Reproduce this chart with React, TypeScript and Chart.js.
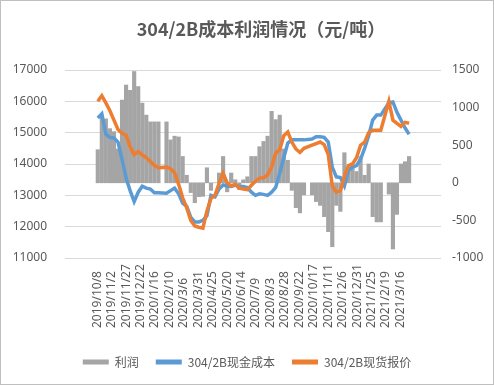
import { useEffect, useRef } from "react";
import { Chart, registerables } from "chart.js";

Chart.register(...registerables);

// Weekly samples (Wednesday of each trading week, starting 2019/10/9); null = holiday week
const startDate = "2019/10/8";
const titleText = "304/2B成本利润情况（元/吨）";
const tickLabels = [
  "2019/10/8", "2019/11/2", "2019/11/27", "2019/12/22", "2020/1/16", "2020/2/10",
  "2020/3/6", "2020/3/31", "2020/4/25", "2020/5/20", "2020/6/14", "2020/7/9",
  "2020/8/3", "2020/8/28", "2020/9/22", "2020/10/17", "2020/11/11", "2020/12/6",
  "2020/12/31", "2021/1/25", "2021/2/19", "2021/3/16",
];

// 利润 (right axis)
const profit = [
  440, 900, 850, 720, 680, 450, 1100, 1300, 1230, 1480,
  1280, 1060, 900, 810, 810, 810, null, 810, 570, 620,
  610, 350, 100, -130, -265, -185, -180, 200, -100, 0,
  130, 350, -120, 130, 40, -90, 40, 80, 350, 350,
  480, 550, 620, 950, 840, 900, 450, 300, -100, -330,
  -400, -160, null, -160, -250, -300, -450, -650, -850, -300,
  -380, 400, 200, 200, 150, 350, 100, 250, -450, -520,
  -520, null, -150, -880, -420, 250, 280, 350,
];

// 304/2B现金成本 (left axis)
const cashCost = [
  15470, 15600, 14950, 14850, 14830, 14700, 14150, 13550, 13150, 12800,
  13100, 13290, 13230, 13200, 13080, 13080, null, 13070, 13150, 13230,
  13050, 12750, 12650, 12300, 12150, 12150, 12200, 12350, 13000, 12950,
  13200, 13330, 13300, 13280, 13330, 13280, 13280, 13250, 13100, 13000,
  13050, 13030, 13000, 13100, 13250, 13700, 14200, 14670, 14770, 14770,
  14770, 14770, null, 14800, 14870, 14870, 14850, 14700, 13900, 13590,
  13570, 13300, 13800, 13900, 13950, 14150, 14500, 14900, 15400, 15560,
  15560, null, 15950, 15980, 15650, 15400, 15150, 14950,
];

// 304/2B现货报价 (left axis)
const spotPrice = [
  16000, 16180, 15950, 15700, 15400, 15100, 14980, 14920, 14550, 14300,
  14400, 14290, 14200, 14080, 13950, 13880, null, 13900, 13850, 13720,
  13350, 12920, 12600, 12200, 12020, 11980, 11950, 12500, 12900, 13000,
  13380, 13700, 13400, 13300, 13350, 13230, 13200, 13180, 13320, 13450,
  13550, 13560, 13650, 13900, 14350, 14450, 14900, 15020, 14700, 14480,
  14370, 14500, null, 14600, 14650, 14700, 14620, 14300, 13300, 13100,
  13150, 13600, 13950, 14000, 14200, 14600, 14700, 15000, 15080, 15080,
  15080, null, 16000, 15400, 15300, 15200, 15330, 15300,
];

const leftTicks = { min: 11000, max: 17000, step: 1000 };
const rightTicks = { min: -1000, max: 1500, step: 500 };

function dayOf(s: string): number {
  const [y, m, d] = s.split("/").map(Number);
  const [y0, m0, d0] = startDate.split("/").map(Number);
  return Math.round((Date.UTC(y, m - 1, d) - Date.UTC(y0, m0 - 1, d0)) / 86400000);
}

const weekDay = (k: number) => 7 * k + 1;

const TEXT = "#595959";
const CJK = '"Noto Sans CJK SC", "Noto Sans", sans-serif';
const NUM = '"Noto Sans", sans-serif';

const textPlugin = {
  id: "texts",
  afterDraw(chart: any) {
    const xs = chart.scales.x;
    const { ctx, chartArea } = chart;
    ctx.save();
    // title
    ctx.font = `bold 18px ${CJK}`;
    ctx.fillStyle = TEXT;
    ctx.textAlign = "center";
    ctx.textBaseline = "middle";
    ctx.fillText(titleText, 260, 28);
    // x tick labels (bottom-aligned, rotated)
    ctx.font = `12px ${NUM}`;
    ctx.textAlign = "left";
    ctx.textBaseline = "middle";
    tickLabels.forEach((lab) => {
      const x = xs.getPixelForValue(dayOf(lab));
      ctx.save();
      ctx.translate(x, chartArea.bottom + 70);
      ctx.rotate(-Math.PI / 2);
      ctx.fillText(lab, 0, 0);
      ctx.restore();
    });
    ctx.restore();
  },
};

export default function App() {
  const ref = useRef<HTMLCanvasElement>(null);

  useEffect(() => {
    document.body.style.margin = "0";
    const toPts = (arr: (number | null)[]) =>
      arr.map((v, k) => ({ x: weekDay(k), y: v }));

    const chart = new Chart(ref.current!, {
      type: "bar",
      data: {
        datasets: [
          {
            type: "bar",
            label: "利润",
            data: toPts(profit) as any,
            backgroundColor: "#a5a5a5",
            barThickness: 3.5,
            yAxisID: "y1",
            order: 3,
          },
          {
            type: "line",
            label: "304/2B现金成本",
            data: toPts(cashCost) as any,
            borderColor: "#5b9bd5",
            backgroundColor: "#5b9bd5",
            borderWidth: 3.5,
            pointRadius: 0,
            spanGaps: true,
            yAxisID: "y",
            order: 2,
          },
          {
            type: "line",
            label: "304/2B现货报价",
            data: toPts(spotPrice) as any,
            borderColor: "#ed7d31",
            backgroundColor: "#ed7d31",
            borderWidth: 3.5,
            pointRadius: 0,
            spanGaps: true,
            yAxisID: "y",
            order: 1,
          },
        ],
      },
      options: {
        animation: false,
        responsive: false,
        layout: { padding: { top: 69, bottom: 6 } },
        plugins: {
          tooltip: { enabled: false },
          title: { display: false },
          legend: {
            position: "bottom",
            labels: {
              boxWidth: 26,
              boxHeight: 5,
              padding: 17,
              color: TEXT,
              font: { size: 12, family: CJK },
              sort: (a: any, b: any) => a.datasetIndex - b.datasetIndex,
              generateLabels: (c: any) =>
                (Chart.defaults.plugins.legend.labels as any)
                  .generateLabels(c)
                  .map((l: any) => ({ ...l, lineWidth: 0 })),
            },
          },
        },
        scales: {
          x: {
            type: "linear",
            min: -1.5,
            max: 541,
            grid: { display: false, drawTicks: false },
            border: { display: false },
            ticks: { display: false },
            afterFit: (s: any) => {
              s.height = 81;
            },
          },
          y: {
            position: "left",
            min: leftTicks.min,
            max: leftTicks.max,
            ticks: {
              stepSize: leftTicks.step,
              padding: 18,
              color: TEXT,
              font: { size: 12, family: NUM },
              callback: (v: any) => String(v),
            },
            grid: { color: "#d9d9d9", drawTicks: false },
            border: { display: false },
            afterFit: (s: any) => {
              s.width = 64;
            },
          },
          y1: {
            position: "right",
            min: rightTicks.min,
            max: rightTicks.max,
            ticks: {
              stepSize: rightTicks.step,
              padding: 11,
              color: TEXT,
              font: { size: 12, family: NUM },
              callback: (v: any) => String(v),
            },
            grid: { display: false, drawTicks: false },
            border: { display: false },
            afterFit: (s: any) => {
              s.width = 52;
            },
          },
        },
      } as any,
      plugins: [textPlugin],
    });
    return () => chart.destroy();
  }, []);

  return (
    <div
      style={{
        width: 494,
        height: 385,
        boxSizing: "border-box",
        border: "1px solid #bfbfbf",
        background: "#fff",
      }}
    >
      <canvas ref={ref} width={492} height={383} style={{ display: "block" }} />
    </div>
  );
}
